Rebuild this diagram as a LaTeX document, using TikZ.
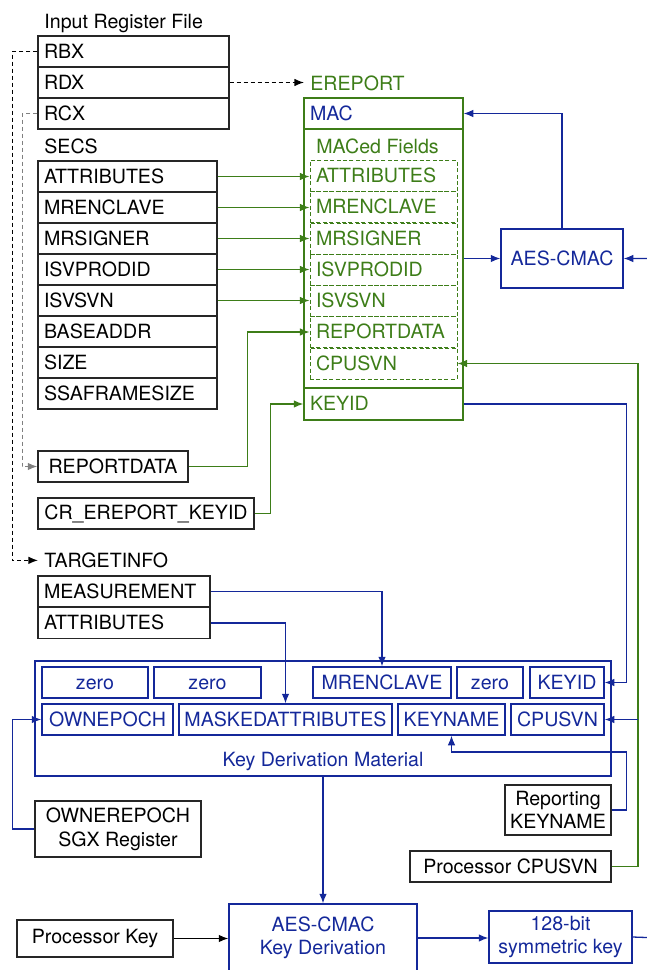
\documentclass[tikz,border=0pt]{standalone}
\usepackage{fontspec}
\setmainfont{TeX Gyre Heros}
\usepackage{xcolor}
\usepackage{tikz}
\usetikzlibrary{arrows.meta}
\definecolor{sgxgreen}{HTML}{3D7D18}
\definecolor{sgxblue}{HTML}{14289A}
\definecolor{sgxink}{HTML}{262626}
\tikzset{
  row/.style={draw=sgxink, line width=0.65pt, minimum height=15.5pt, inner xsep=3pt, inner ysep=0pt, align=left, text height=7.9pt, text depth=1.2pt},
  regrow/.style={row, text width=89.5pt},
  secsrow/.style={row, text width=83.5pt},
  tirow/.style={row, text width=80pt},
  ereprow/.style={row, draw=sgxgreen, text width=73.5pt},
  fieldrow/.style={row, draw=sgxgreen, dash pattern=on 2pt off 1.2pt, line width=0.5pt, text=sgxgreen, text width=67.5pt},
  box/.style={draw=sgxink, line width=0.65pt, align=center, inner sep=0pt},
  kcell/.style={box, draw=sgxblue, text=sgxblue, minimum height=15.5pt, text height=7.9pt, text depth=1.2pt},
  caption/.style={inner xsep=3pt, inner ysep=0pt, anchor=base west},
  link/.style={-{Latex[length=4.8pt,width=3.8pt]}, line width=0.65pt},
  glink/.style={link, draw=sgxgreen},
  blink/.style={link, draw=sgxblue},
  dashlink/.style={link, dash pattern=on 2pt off 1.5pt}
}
\begin{document}
\begin{tikzpicture}[x=0.5pt, y=-0.5pt, font=\fontsize{9.8}{11.5}\selectfont]
  \useasboundingbox (0,0) rectangle (647,970);
  \clip (0,0) rectangle (647,970);

  \node[caption] (regtitle) at (38,28.5) {Input Register File};
  \node[regrow] (rbx) at (133.5,51.5) {RBX};
  \node[regrow] (rdx) at (133.5,82.5) {RDX};
  \node[regrow] (rcx) at (133.5,113.5) {RCX};

  \node[caption] (secstitle) at (38,153) {SECS};
  \node[secsrow] (sattr) at (127.5,176.5) {ATTRIBUTES};
  \node[secsrow] (smren) at (127.5,207.5) {MRENCLAVE};
  \node[secsrow] (ssign) at (127.5,238.5) {MRSIGNER};
  \node[secsrow] (sprod) at (127.5,269.5) {ISVPRODID};
  \node[secsrow] (ssvn) at (127.5,300.5) {ISVSVN};
  \node[secsrow] (sbase) at (127.5,331.5) {BASEADDR};
  \node[secsrow] (ssize) at (127.5,362.5) {SIZE};
  \node[secsrow] (sssa) at (127.5,393.5) {SSAFRAMESIZE};

  \node[box, minimum width=75pt, minimum height=15.5pt] (rdata) at (113,466.5) {REPORTDATA};
  \node[box, minimum width=108pt, minimum height=15.5pt] (crkey) at (146,513.5) {CR\_EREPORT\_KEYID};

  \node[caption] (tinfo) at (38,567.5) {TARGETINFO};
  \node[tirow] (tmeas) at (124,591.5) {MEASUREMENT};
  \node[tirow] (tattr) at (124,623) {ATTRIBUTES};

  \node[caption, text=sgxgreen] (erep) at (304,90.5) {EREPORT};
  \node[ereprow, text=sgxblue] (mac) at (383.5,113.5) {MAC};
  \node[box, draw=sgxgreen, minimum width=79.5pt, minimum height=129.5pt] (maced) at (383.5,258.5) {};
  \node[caption, text=sgxgreen] (macedtitle) at (310,153) {MACed Fields};
  \node[fieldrow] (eattr) at (383.5,176) {ATTRIBUTES};
  \node[fieldrow] (emren) at (383.5,207) {MRENCLAVE};
  \node[fieldrow] (esign) at (383.5,238.5) {MRSIGNER};
  \node[fieldrow] (eprod) at (383.5,269.5) {ISVPRODID};
  \node[fieldrow] (esvn) at (383.5,301) {ISVSVN};
  \node[fieldrow] (erdata) at (383.5,332) {REPORTDATA};
  \node[fieldrow] (ecpu) at (383.5,363.5) {CPUSVN};
  \node[ereprow, text=sgxgreen, minimum height=16pt] (keyid) at (383.5,404) {KEYID};

  \node[box, draw=sgxblue, text=sgxblue, minimum width=61pt, minimum height=29.5pt] (cmac) at (562,258.5) {AES-CMAC};

  \node[box, draw=sgxblue, minimum width=288pt, minimum height=57.5pt] (kdm) at (323,718.5) {};
  \node[kcell, minimum width=53pt] (kzeroa) at (95,682.5) {zero};
  \node[kcell, minimum width=53.5pt] (kzerob) at (207.5,682.5) {zero};
  \node[kcell, minimum width=69pt] (kmren) at (382,682.5) {MRENCLAVE};
  \node[kcell, minimum width=33pt] (kzeroc) at (490,682.5) {zero};
  \node[kcell, minimum width=37pt] (kkeyid) at (567,682.5) {KEYID};
  \node[kcell, minimum width=65.5pt] (kown) at (107.5,719.5) {OWNEPOCH};
  \node[kcell, minimum width=106.5pt] (kmask) at (285.5,719.5) {MASKEDATTRIBUTES};
  \node[kcell, minimum width=53.5pt] (kname) at (451.5,719.5) {KEYNAME};
  \node[kcell, minimum width=46.5pt] (kcpu) at (557.5,719.5) {CPUSVN};
  \node[text=sgxblue, inner sep=0pt, anchor=base] (kdmtitle) at (323,766) {Key Derivation Material};

  \node[box, minimum width=83pt, minimum height=28pt, font=\fontsize{9.8}{12}\selectfont] (ownsgx) at (118,829) {OWNEREPOCH\\SGX Register};
  \node[box, minimum width=53pt, minimum height=25pt] (repname) at (558,810) {Reporting\\KEYNAME};
  \node[box, minimum width=100.5pt, minimum height=15.5pt] (pcpusvn) at (510.5,866.5) {Processor CPUSVN};
  \node[box, minimum width=78pt, minimum height=18.5pt] (pkey) at (95,938.5) {Processor Key};
  \node[box, draw=sgxblue, text=sgxblue, minimum width=94pt, minimum height=34pt] (kdf) at (323,938) {AES-CMAC\\Key Derivation};
  \node[box, draw=sgxblue, text=sgxblue, minimum width=71.5pt, minimum height=26pt] (symkey) at (560.5,937) {128-bit\\symmetric key};

  \coordinate (rightbus) at (660,938);
  \coordinate (gbus) at (638,867);

  \draw[dashlink] (rdx.east) -- (rdx.east -| erep.west);
  \draw[dashlink] (rbx.west) -- ++(-25,0) |- (tinfo.west);
  \draw[dashlink, draw=gray] (rcx.west) -- ++(-15,0) |- (rdata.west);

  \draw[glink] (sattr.east) -- (sattr.east -| eattr.west);
  \draw[glink] (smren.east) -- (smren.east -| emren.west);
  \draw[glink] (ssign.east) -- (ssign.east -| esign.west);
  \draw[glink] (sprod.east) -- (sprod.east -| eprod.west);
  \draw[glink] (ssvn.east) -- (ssvn.east -| esvn.west);
  \draw[glink] (rdata.east) -- ++(59,0) |- (erdata.west);
  \draw[glink] (crkey.east) -- ++(16,0) |- (keyid.west);
  \draw[glink] (pcpusvn.east) -- (pcpusvn.east -| gbus) |- (ecpu.east);

  \draw[blink] (maced.east) -- (cmac.west);
  \draw[blink] (cmac.north) |- (mac.east);
  \draw[blink] (symkey.east) -- (rightbus) |- (cmac.east);
  \draw[blink] (keyid.east) -- ++(163,0) |- (kkeyid.east);
  \draw[blink] (kcpu.east -| gbus) -- (kcpu.east);
  \draw[blink] (repname.east) -| ++(15,-58) -| (kname.south);
  \draw[blink] (ownsgx.west) -- ++(-22,0) |- (kown.west);
  \draw[blink] (tmeas.east) -| (kmren.north);
  \draw[blink] (tattr.east) -| (kmask.north);
  \draw[blink] (kdm.south) -- (kdf.north);
  \draw[blink] (kdf.east) -- (kdf.east -| symkey.west);
  \draw[link] (pkey.east) -- (pkey.east -| kdf.west);
\end{tikzpicture}
\end{document}
